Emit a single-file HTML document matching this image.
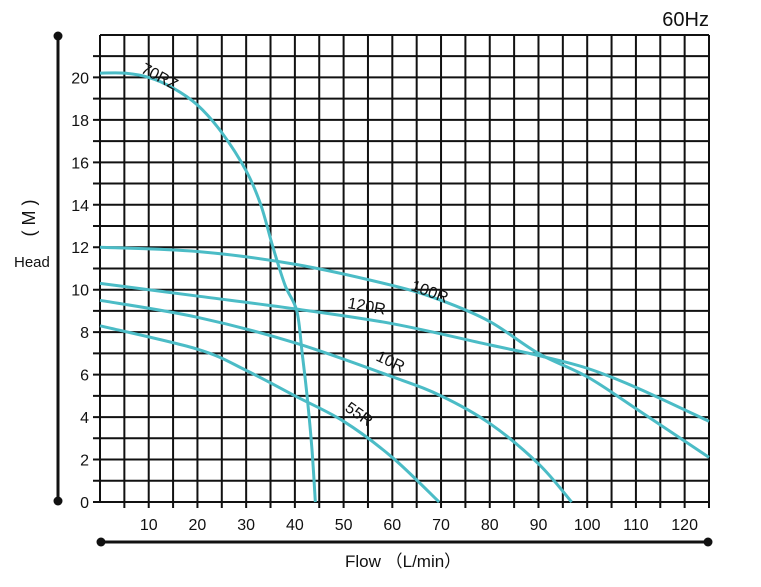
<!DOCTYPE html>
<html><head><meta charset="utf-8"><style>body{margin:0;background:#fff}svg{display:block}text{font-family:"Liberation Sans",sans-serif;fill:#111}</style></head>
<body>
<svg id="s" width="761" height="587" viewBox="0 0 761 587" xmlns="http://www.w3.org/2000/svg">
<g id="grid" stroke="#111" stroke-width="2"></g>
<g id="curves" fill="none" stroke="#4bbcc6" stroke-width="3"></g>
<g font-size="16" id="lbl"></g>
<text x="709" y="26" font-size="20" text-anchor="end">60Hz</text>
<line x1="58" y1="36" x2="58" y2="501" stroke="#111" stroke-width="3"/>
<circle cx="58" cy="36" r="4.5" fill="#111"/><circle cx="58" cy="501" r="4.5" fill="#111"/>
<line x1="101" y1="542" x2="708" y2="542" stroke="#111" stroke-width="3"/>
<circle cx="101" cy="542" r="4.5" fill="#111"/><circle cx="708" cy="542" r="4.5" fill="#111"/>
<text x="14" y="267" font-size="15">Head</text>
<text x="35" y="218" font-size="18" transform="rotate(-90 35 218)" text-anchor="middle">( M )</text>
<text x="345" y="567" font-size="17">Flow （L/min）</text>
<text x="140" y="72" font-size="16" transform="rotate(28 140 72)">70RZ</text>
<text x="410" y="290" font-size="16" transform="rotate(20 410 290)">100R</text>
<text x="347" y="308" font-size="16" transform="rotate(10 347 308)">120R</text>
<text x="375" y="360" font-size="16" transform="rotate(25 375 360)">10R</text>
<text x="344" y="410" font-size="16" transform="rotate(35 344 410)">55R</text>
</svg>
<script>
var X=function(v){return 100+v*609/125},Y=function(v){return 502-v*21.23};
var g=document.getElementById('grid'),h='';
for(var i=0;i<=25;i++){var x=X(i*5);h+='<line x1="'+x+'" y1="35" x2="'+x+'" y2="'+(i==0?502:508)+'"/>';}
for(var j=0;j<=22;j++){var y=Y(j);h+='<line x1="'+(j==22?100:93)+'" y1="'+y+'" x2="709" y2="'+y+'"/>';}
g.innerHTML=h;
var l='';for(var j=0;j<=20;j+=2)l+='<text x="89" y="'+(Y(j)+6)+'" text-anchor="end">'+j+'</text>';
for(var i=10;i<=120;i+=10)l+='<text x="'+X(i)+'" y="530" text-anchor="middle">'+i+'</text>';
document.getElementById('lbl').innerHTML=l;
var C=[
[[0,20.2],[5,20.2],[10,20.0],[15,19.5],[20,18.7],[25,17.4],[30,15.6],[33,14],[35.5,12],[38,10.2],[40.4,9],[41.5,7],[42.5,5],[43.5,2.5],[44.2,0]],
[[0,12],[20,11.8],[40,11.2],[60,10.2],[70,9.5],[80,8.5],[90,7],[100,5.9],[110,4.4],[125,2.1]],
[[0,10.3],[20,9.7],[40,9.1],[60,8.4],[80,7.4],[90,6.9],[100,6.3],[110,5.4],[125,3.8]],
[[0,9.5],[20,8.7],[40,7.5],[60,5.9],[70,5],[80,3.7],[90,1.8],[96.8,0]],
[[0,8.3],[20,7.2],[30,6.2],[40,5],[50,3.8],[60,2.1],[69.6,0]]];
var out='';
C.forEach(function(c){var p=c.map(function(q){return[X(q[0]),Y(q[1])]});var d='M'+p[0];
for(var k=0;k<p.length-1;k++){var a=p[k-1]||p[k],b=p[k],e=p[k+1],f=p[k+2]||e;
d+='C'+(b[0]+(e[0]-a[0])/6)+','+(b[1]+(e[1]-a[1])/6)+' '+(e[0]-(f[0]-b[0])/6)+','+(e[1]-(f[1]-b[1])/6)+' '+e[0]+','+e[1];}
out+='<path d="'+d+'"/>';});
document.getElementById('curves').innerHTML=out;
</script>
</body></html>
